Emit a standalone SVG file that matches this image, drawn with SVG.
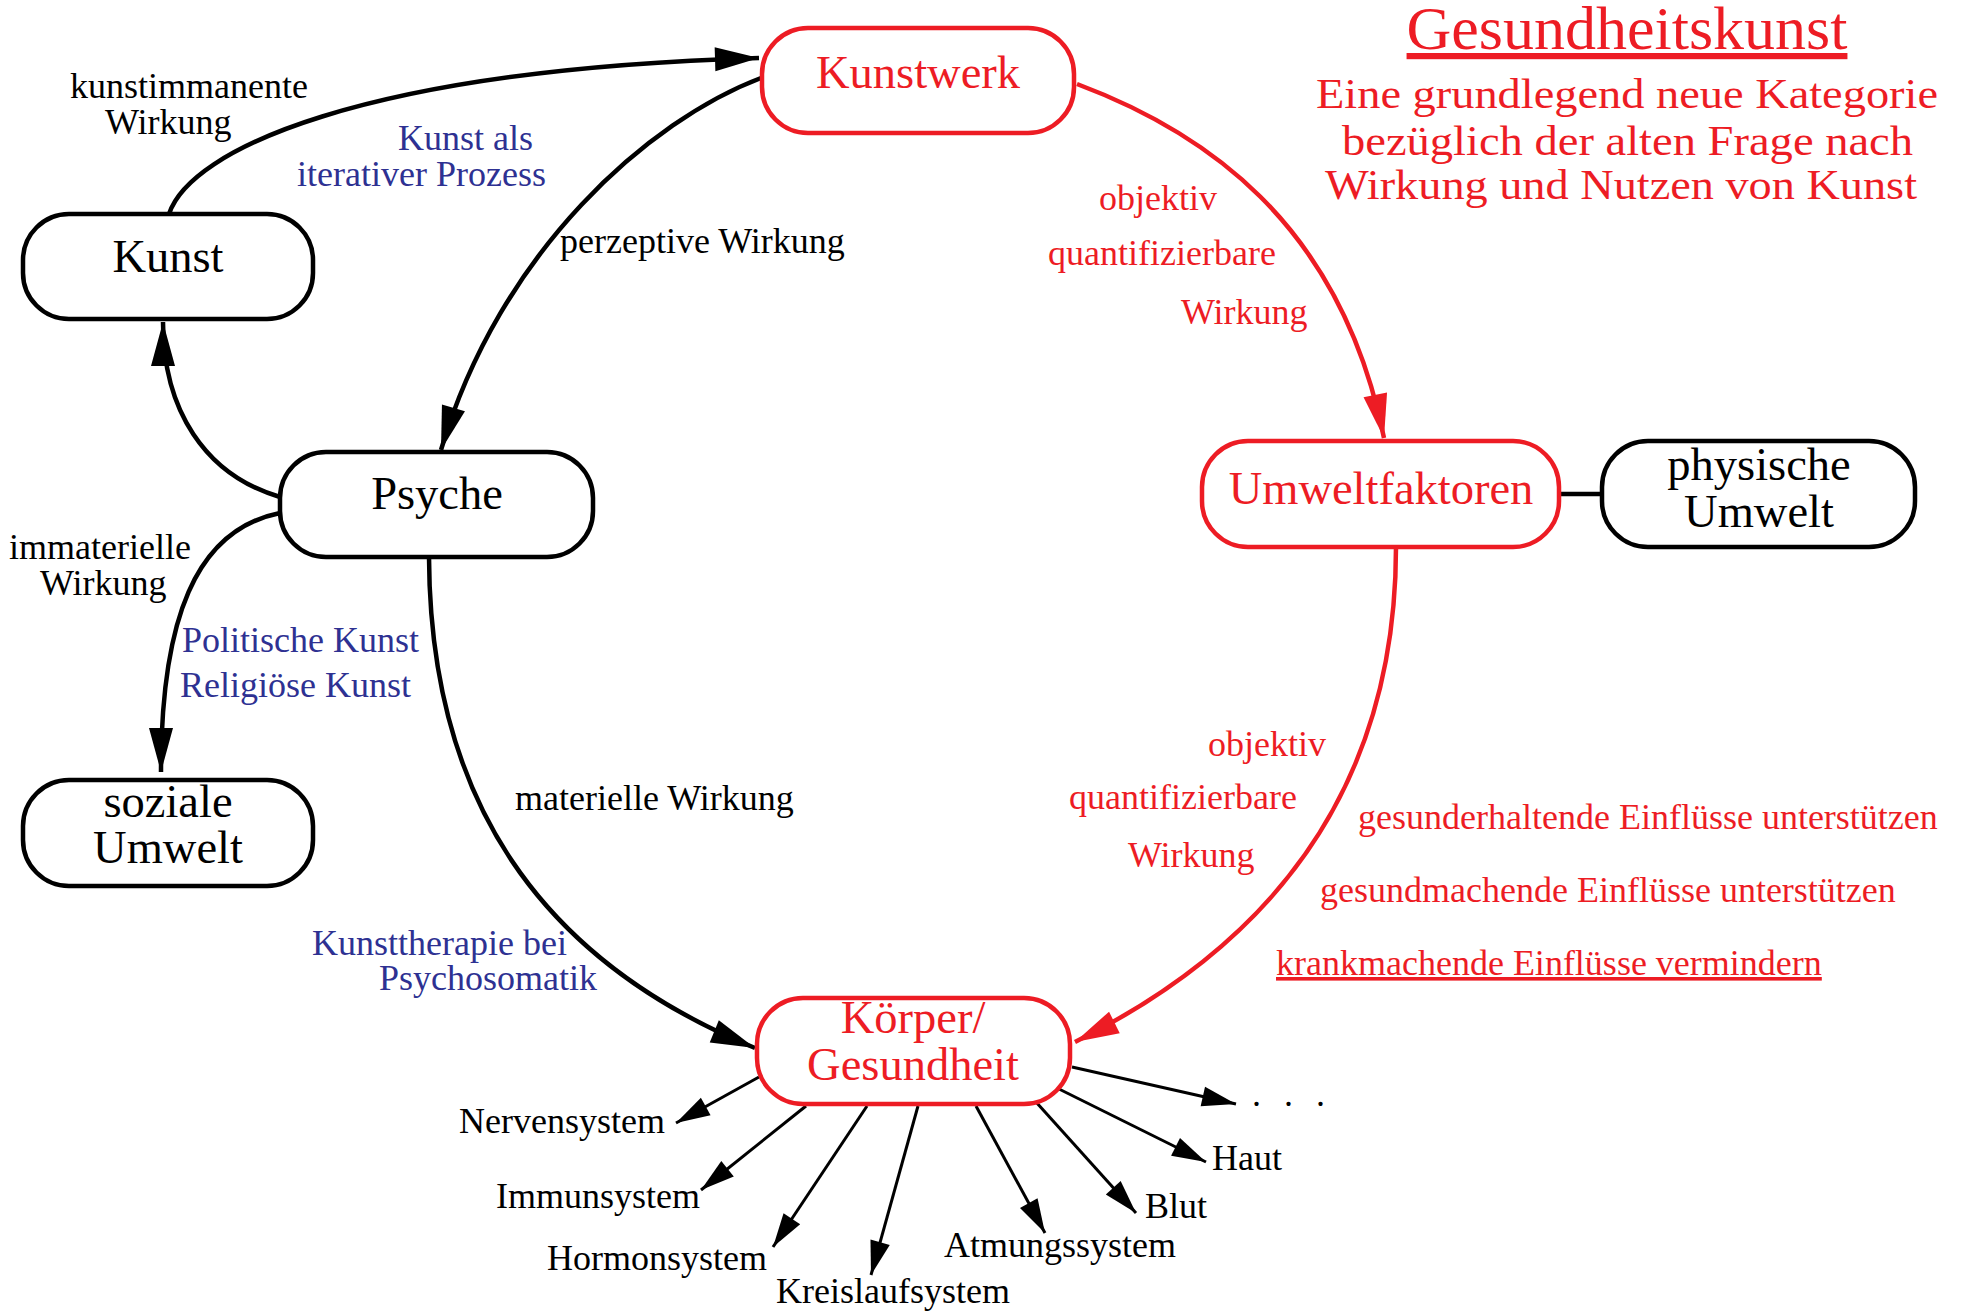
<svg xmlns="http://www.w3.org/2000/svg" width="1963" height="1311" viewBox="0 0 1963 1311">
<style>
text{font-family:"Liberation Serif","Times New Roman",serif;}
.node rect{fill:#fff;stroke:#000;stroke-width:4.5;}
.node.red rect{stroke:#ed1c24;}
.nt{font-size:46.5px;text-anchor:middle;fill:#000;}
.red .nt{fill:#ed1c24;}
.lbl{font-size:36px;fill:#000;}
.blue{fill:#2e3192;}
.rl{fill:#ed1c24;}
.sub{font-size:43px;fill:#ed1c24;}
.e{fill:none;stroke:#000;stroke-width:4.5;}
.e.r{stroke:#ed1c24;}
.s{fill:none;stroke:#000;stroke-width:3;}
</style>
<defs>
<marker id="ab" markerUnits="userSpaceOnUse" markerWidth="46" markerHeight="26" refX="44" refY="12" orient="auto" overflow="visible"><path d="M0,0 L44,12 L0,24 z" fill="#000"/></marker>
<marker id="ar" markerUnits="userSpaceOnUse" markerWidth="46" markerHeight="26" refX="44" refY="12" orient="auto" overflow="visible"><path d="M0,0 L44,12 L0,24 z" fill="#ed1c24"/></marker>
<marker id="as" markerUnits="userSpaceOnUse" markerWidth="36" markerHeight="22" refX="34" refY="10" orient="auto" overflow="visible"><path d="M0,0 L34,10 L0,20 z" fill="#000"/></marker>
</defs>
<rect width="1963" height="1311" fill="#fff"/>

<g id="title">
<text x="1627" y="49" font-size="62" text-anchor="middle" fill="#ed1c24" text-decoration="underline">Gesundheitskunst</text>
<text class="sub" x="1316" y="108" textLength="622" lengthAdjust="spacingAndGlyphs">Eine grundlegend neue Kategorie</text>
<text class="sub" x="1342" y="155" textLength="571" lengthAdjust="spacingAndGlyphs">bezüglich der alten Frage nach</text>
<text class="sub" x="1325" y="199" textLength="592" lengthAdjust="spacingAndGlyphs">Wirkung und Nutzen von Kunst</text>
</g>

<g id="connectors">
<path id="e-kunst-kunstwerk" class="e" d="M169,214 C190,150 360,70 759,58" marker-end="url(#ab)"/>
<path id="e-kunstwerk-psyche" class="e" d="M761,78 C650,120 500,250 441,450" marker-end="url(#ab)"/>
<path id="e-psyche-kunst" class="e" d="M280,497 C205,475 163,410 163,322" marker-end="url(#ab)"/>
<path id="e-psyche-soziale" class="e" d="M280,513 C195,530 161,620 161,772" marker-end="url(#ab)"/>
<path id="e-psyche-koerper" class="e" d="M429,557 C430,800 540,960 755,1048" marker-end="url(#ab)"/>
<path id="e-kunstwerk-umwelt" class="e r" d="M1077,84 C1200,130 1340,220 1384,438" marker-end="url(#ar)"/>
<path id="e-umwelt-koerper" class="e r" d="M1396,547 C1396,800 1260,950 1075,1042" marker-end="url(#ar)"/>
<line id="e-umwelt-physisch" x1="1559" y1="494" x2="1602" y2="494" stroke="#000" stroke-width="4.5"/>
<line class="s" x1="759" y1="1077" x2="676" y2="1123" marker-end="url(#as)"/>
<line class="s" x1="806" y1="1106" x2="701" y2="1190" marker-end="url(#as)"/>
<line class="s" x1="867" y1="1106" x2="773" y2="1247" marker-end="url(#as)"/>
<line class="s" x1="918" y1="1106" x2="871" y2="1275" marker-end="url(#as)"/>
<line class="s" x1="976" y1="1106" x2="1045" y2="1233" marker-end="url(#as)"/>
<line class="s" x1="1036" y1="1102" x2="1136" y2="1213" marker-end="url(#as)"/>
<line class="s" x1="1059" y1="1089" x2="1206" y2="1162" marker-end="url(#as)"/>
<line class="s" x1="1072" y1="1067" x2="1236" y2="1104" marker-end="url(#as)"/>
</g>

<g id="labels">
<text class="lbl" x="70" y="98">kunstimmanente</text>
<text class="lbl" x="105" y="134">Wirkung</text>
<text class="lbl blue" x="398" y="150">Kunst als</text>
<text class="lbl blue" x="297" y="186">iterativer Prozess</text>
<text class="lbl" x="560" y="253">perzeptive Wirkung</text>
<text class="lbl rl" x="1099" y="210">objektiv</text>
<text class="lbl rl" x="1048" y="265">quantifizierbare</text>
<text class="lbl rl" x="1181" y="324">Wirkung</text>
<text class="lbl" x="9" y="559">immaterielle</text>
<text class="lbl" x="40" y="595">Wirkung</text>
<text class="lbl blue" x="182" y="652">Politische Kunst</text>
<text class="lbl blue" x="180" y="697">Religiöse Kunst</text>
<text class="lbl" x="515" y="810">materielle Wirkung</text>
<text class="lbl blue" x="312" y="955">Kunsttherapie bei</text>
<text class="lbl blue" x="379" y="990">Psychosomatik</text>
<text class="lbl rl" x="1208" y="756">objektiv</text>
<text class="lbl rl" x="1069" y="809">quantifizierbare</text>
<text class="lbl rl" x="1128" y="867">Wirkung</text>
<text class="lbl rl" x="1358" y="829">gesunderhaltende Einflüsse unterstützen</text>
<text class="lbl rl" x="1320" y="902">gesundmachende Einflüsse unterstützen</text>
<text class="lbl rl" x="1276" y="975" text-decoration="underline">krankmachende Einflüsse vermindern</text>
<text class="lbl" x="665" y="1133" text-anchor="end">Nervensystem</text>
<text class="lbl" x="700" y="1208" text-anchor="end">Immunsystem</text>
<text class="lbl" x="767" y="1270" text-anchor="end">Hormonsystem</text>
<text class="lbl" x="776" y="1303">Kreislaufsystem</text>
<text class="lbl" x="944" y="1257">Atmungssystem</text>
<text class="lbl" x="1145" y="1218">Blut</text>
<text class="lbl" x="1212" y="1170">Haut</text>
<text class="lbl" x="1252" y="1106" letter-spacing="7">. . .</text>
</g>

<g id="node-kunstwerk" class="node red">
<rect x="762" y="28" width="312" height="105" rx="46"/>
<text class="nt" x="918" y="88">Kunstwerk</text>
</g>
<g id="node-kunst" class="node">
<rect x="23" y="214" width="290" height="105" rx="46"/>
<text class="nt" x="168" y="272">Kunst</text>
</g>
<g id="node-psyche" class="node">
<rect x="280" y="452" width="313" height="105" rx="46"/>
<text class="nt" x="437" y="509">Psyche</text>
</g>
<g id="node-soziale-umwelt" class="node">
<rect x="23" y="780" width="290" height="106" rx="46"/>
<text class="nt" x="168" y="817">soziale</text>
<text class="nt" x="168" y="863">Umwelt</text>
</g>
<g id="node-umweltfaktoren" class="node red">
<rect x="1202" y="441" width="357" height="106" rx="46"/>
<text class="nt" x="1381" y="504">Umweltfaktoren</text>
</g>
<g id="node-physische-umwelt" class="node">
<rect x="1602" y="441" width="313" height="106" rx="46"/>
<text class="nt" x="1759" y="480">physische</text>
<text class="nt" x="1759" y="527">Umwelt</text>
</g>
<g id="node-koerper" class="node red">
<rect x="757" y="998" width="313" height="106" rx="46"/>
<text class="nt" x="913" y="1033">Körper/</text>
<text class="nt" x="913" y="1080">Gesundheit</text>
</g>
</svg>
